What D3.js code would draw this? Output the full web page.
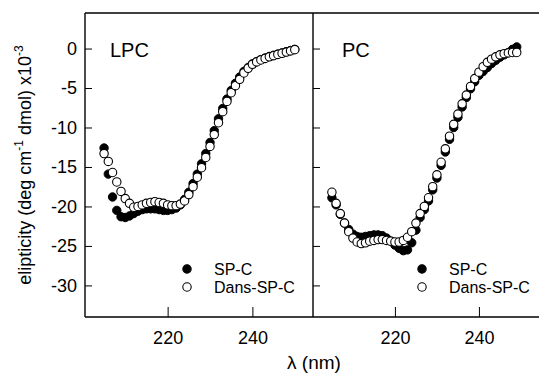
<!DOCTYPE html>
<html>
<head>
<meta charset="utf-8">
<script src="https://cdn.jsdelivr.net/npm/d3@7"></script>
<style>
  html, body { margin: 0; padding: 0; background: #fff; }
  svg { display: block; }
  text { font-family: "Liberation Sans", Arial, Helvetica, sans-serif; fill: #000; }
</style>
</head>
<body>
<svg id="chart" width="539" height="374"></svg>
<script>
// ---- data ----
const lpcWavelength = d3.range(205, 251);
const lpcSPC = [-12.6, -15.9, -18.8, -20.5, -21.3, -21.4, -21.2, -20.9, -20.6, -20.4,
  -20.3, -20.3, -20.3, -20.4, -20.5, -20.5, -20.4, -20.2, -19.8, -19.1,
  -18.2, -17.1, -15.9, -14.6, -13.3, -11.9, -10.4, -8.9, -7.6, -6.4,
  -5.3, -4.4, -3.6, -2.9, -2.4, -1.95, -1.65, -1.4, -1.2, -1.0,
  -0.85, -0.7, -0.55, -0.4, -0.25, -0.1];
const lpcDans = [-13.3, -14.3, -15.7, -16.9, -18.1, -19.0, -19.6, -20.1, -20.0, -19.8,
  -19.6, -19.5, -19.4, -19.5, -19.6, -19.8, -19.9, -19.9, -19.7, -19.3,
  -18.5, -17.5, -16.3, -15.1, -13.8, -12.4, -10.9, -9.4, -8.0, -6.7,
  -5.6, -4.7, -3.9, -3.1, -2.5, -2.0, -1.7, -1.45, -1.25, -1.05,
  -0.9, -0.75, -0.6, -0.45, -0.3, -0.15];

const pcWavelength = d3.range(205, 250);
const pcSPC = [-18.9, -19.8, -21.0, -22.1, -22.9, -23.5, -23.8, -23.9, -23.8, -23.7,
  -23.6, -23.6, -23.7, -24.0, -24.4, -24.9, -25.3, -25.6, -25.5, -24.6,
  -23.0, -21.4, -20.4, -19.3, -17.9, -16.4, -14.8, -13.1, -11.5, -10.0,
  -8.7, -7.4, -6.2, -5.1, -4.2, -3.4, -2.9, -2.4, -1.9, -1.5,
  -1.1, -0.8, -0.5, -0.1, 0.2];
const pcDans = [-18.2, -19.6, -20.9, -22.1, -23.2, -24.0, -24.5, -24.7, -24.6, -24.4,
  -24.3, -24.2, -24.2, -24.3, -24.4, -24.5, -24.5, -24.3, -23.9, -23.2,
  -22.1, -20.9, -20.0, -18.9, -17.5, -16.0, -14.4, -12.7, -11.1, -9.6,
  -8.3, -7.0, -5.9, -4.8, -3.8, -3.0, -2.3, -1.75, -1.35, -1.05,
  -0.8, -0.65, -0.55, -0.5, -0.5];

const yTicks = [0, -5, -10, -15, -20, -25, -30];
const xTicks = [220, 240];
const seriesNames = ["SP-C", "Dans-SP-C"];
const panelNames = ["LPC", "PC"];

// ---- layout ----
const svg = d3.select("#chart");
const plotTop = 13, plotBottom = 317;
const y = d3.scaleLinear().domain([-34, 4.5]).range([plotBottom, plotTop]);

const panels = [
  { name: panelNames[0], x0: 85, x1: 313, wl: lpcWavelength, spc: lpcSPC, dans: lpcDans, legX: 187 },
  { name: panelNames[1], x0: 313, x1: 539, wl: pcWavelength, spc: pcSPC, dans: pcDans, legX: 422 }
];

// frame lines
svg.append("line").attr("x1", 85).attr("x2", 539).attr("y1", plotTop).attr("y2", plotTop)
  .attr("stroke", "#000").attr("stroke-width", 1.3);
svg.append("line").attr("x1", 85).attr("x2", 539).attr("y1", plotBottom).attr("y2", plotBottom)
  .attr("stroke", "#000").attr("stroke-width", 1.5);

panels.forEach((p, i) => {
  const x = d3.scaleLinear().domain([200.5, 254.3]).range([p.x0, p.x1]);
  const g = svg.append("g");

  // y axis (ticks inward)
  const ya = d3.axisRight(y).tickValues(yTicks).tickSize(7).tickFormat("");
  const yg = g.append("g").attr("transform", `translate(${p.x0},0)`).call(ya);
  yg.select(".domain").remove();
  yg.selectAll("line").attr("stroke", "#000").attr("stroke-width", 1);
  g.append("line").attr("x1", p.x0).attr("x2", p.x0).attr("y1", plotTop).attr("y2", plotBottom)
    .attr("stroke", "#000").attr("stroke-width", 1.4);

  if (i === 0) {
    const yl = d3.axisLeft(y).tickValues(yTicks).tickSize(0).tickPadding(8)
      .tickFormat(d => d);
    const ylg = g.append("g").attr("transform", `translate(${p.x0},0)`).call(yl);
    ylg.select(".domain").remove();
    ylg.selectAll("text").style("font-size", "18px")
      .style("font-family", '"Liberation Sans", Arial, sans-serif');
  }

  // x axis (ticks inward)
  const xa = d3.axisTop(x).tickValues(xTicks).tickSize(10).tickFormat("");
  const xg = g.append("g").attr("transform", `translate(0,${plotBottom})`).call(xa);
  xg.select(".domain").remove();
  xg.selectAll("line").attr("stroke", "#000").attr("stroke-width", 1);
  const xl = d3.axisBottom(x).tickValues(xTicks).tickSize(0).tickPadding(14).tickFormat(d => d);
  const xlg = g.append("g").attr("transform", `translate(0,${plotBottom})`).call(xl);
  xlg.select(".domain").remove();
  xlg.selectAll("text").style("font-size", "18px")
    .style("font-family", '"Liberation Sans", Arial, sans-serif');

  // panel label
  g.append("text").attr("x", p.x0 + (i === 0 ? 25 : 29)).attr("y", 57)
    .style("font-size", "20px").text(p.name);

  // data points
  g.selectAll("circle.spc").data(p.wl.map((w, k) => [w, p.spc[k]])).join("circle")
    .attr("class", "spc").attr("cx", d => x(d[0])).attr("cy", d => y(d[1])).attr("r", 4.2)
    .attr("fill", "#000").attr("stroke", "#000").attr("stroke-width", 1);
  g.selectAll("circle.dans").data(p.wl.map((w, k) => [w, p.dans[k]])).join("circle")
    .attr("class", "dans").attr("cx", d => x(d[0])).attr("cy", d => y(d[1])).attr("r", 4.2)
    .attr("fill", "#fff").attr("stroke", "#000").attr("stroke-width", 1.1);

  // legend
  seriesNames.forEach((s, k) => {
    const cy = 269 + k * 18;
    g.append("circle").attr("cx", p.legX).attr("cy", cy).attr("r", 4.2)
      .attr("fill", k === 0 ? "#000" : "#fff").attr("stroke", "#000").attr("stroke-width", 1.1);
    g.append("text").attr("x", p.legX + 27).attr("y", cy + 5.5)
      .style("font-size", "16px").text(s);
  });
});

// axis titles
const ylab = svg.append("text")
  .attr("transform", "translate(31,165) rotate(-90)")
  .attr("text-anchor", "middle").style("font-size", "18px");
ylab.append("tspan").text("elipticity (deg cm");
ylab.append("tspan").attr("dy", -8).style("font-size", "12px").text("-1");
ylab.append("tspan").attr("dy", 8).text(" dmol) x10");
ylab.append("tspan").attr("dy", -8).style("font-size", "12px").text("-3");

svg.append("text").attr("x", 314).attr("y", 369).attr("text-anchor", "middle")
  .style("font-size", "19px").text("λ (nm)");
</script>
</body>
</html>
